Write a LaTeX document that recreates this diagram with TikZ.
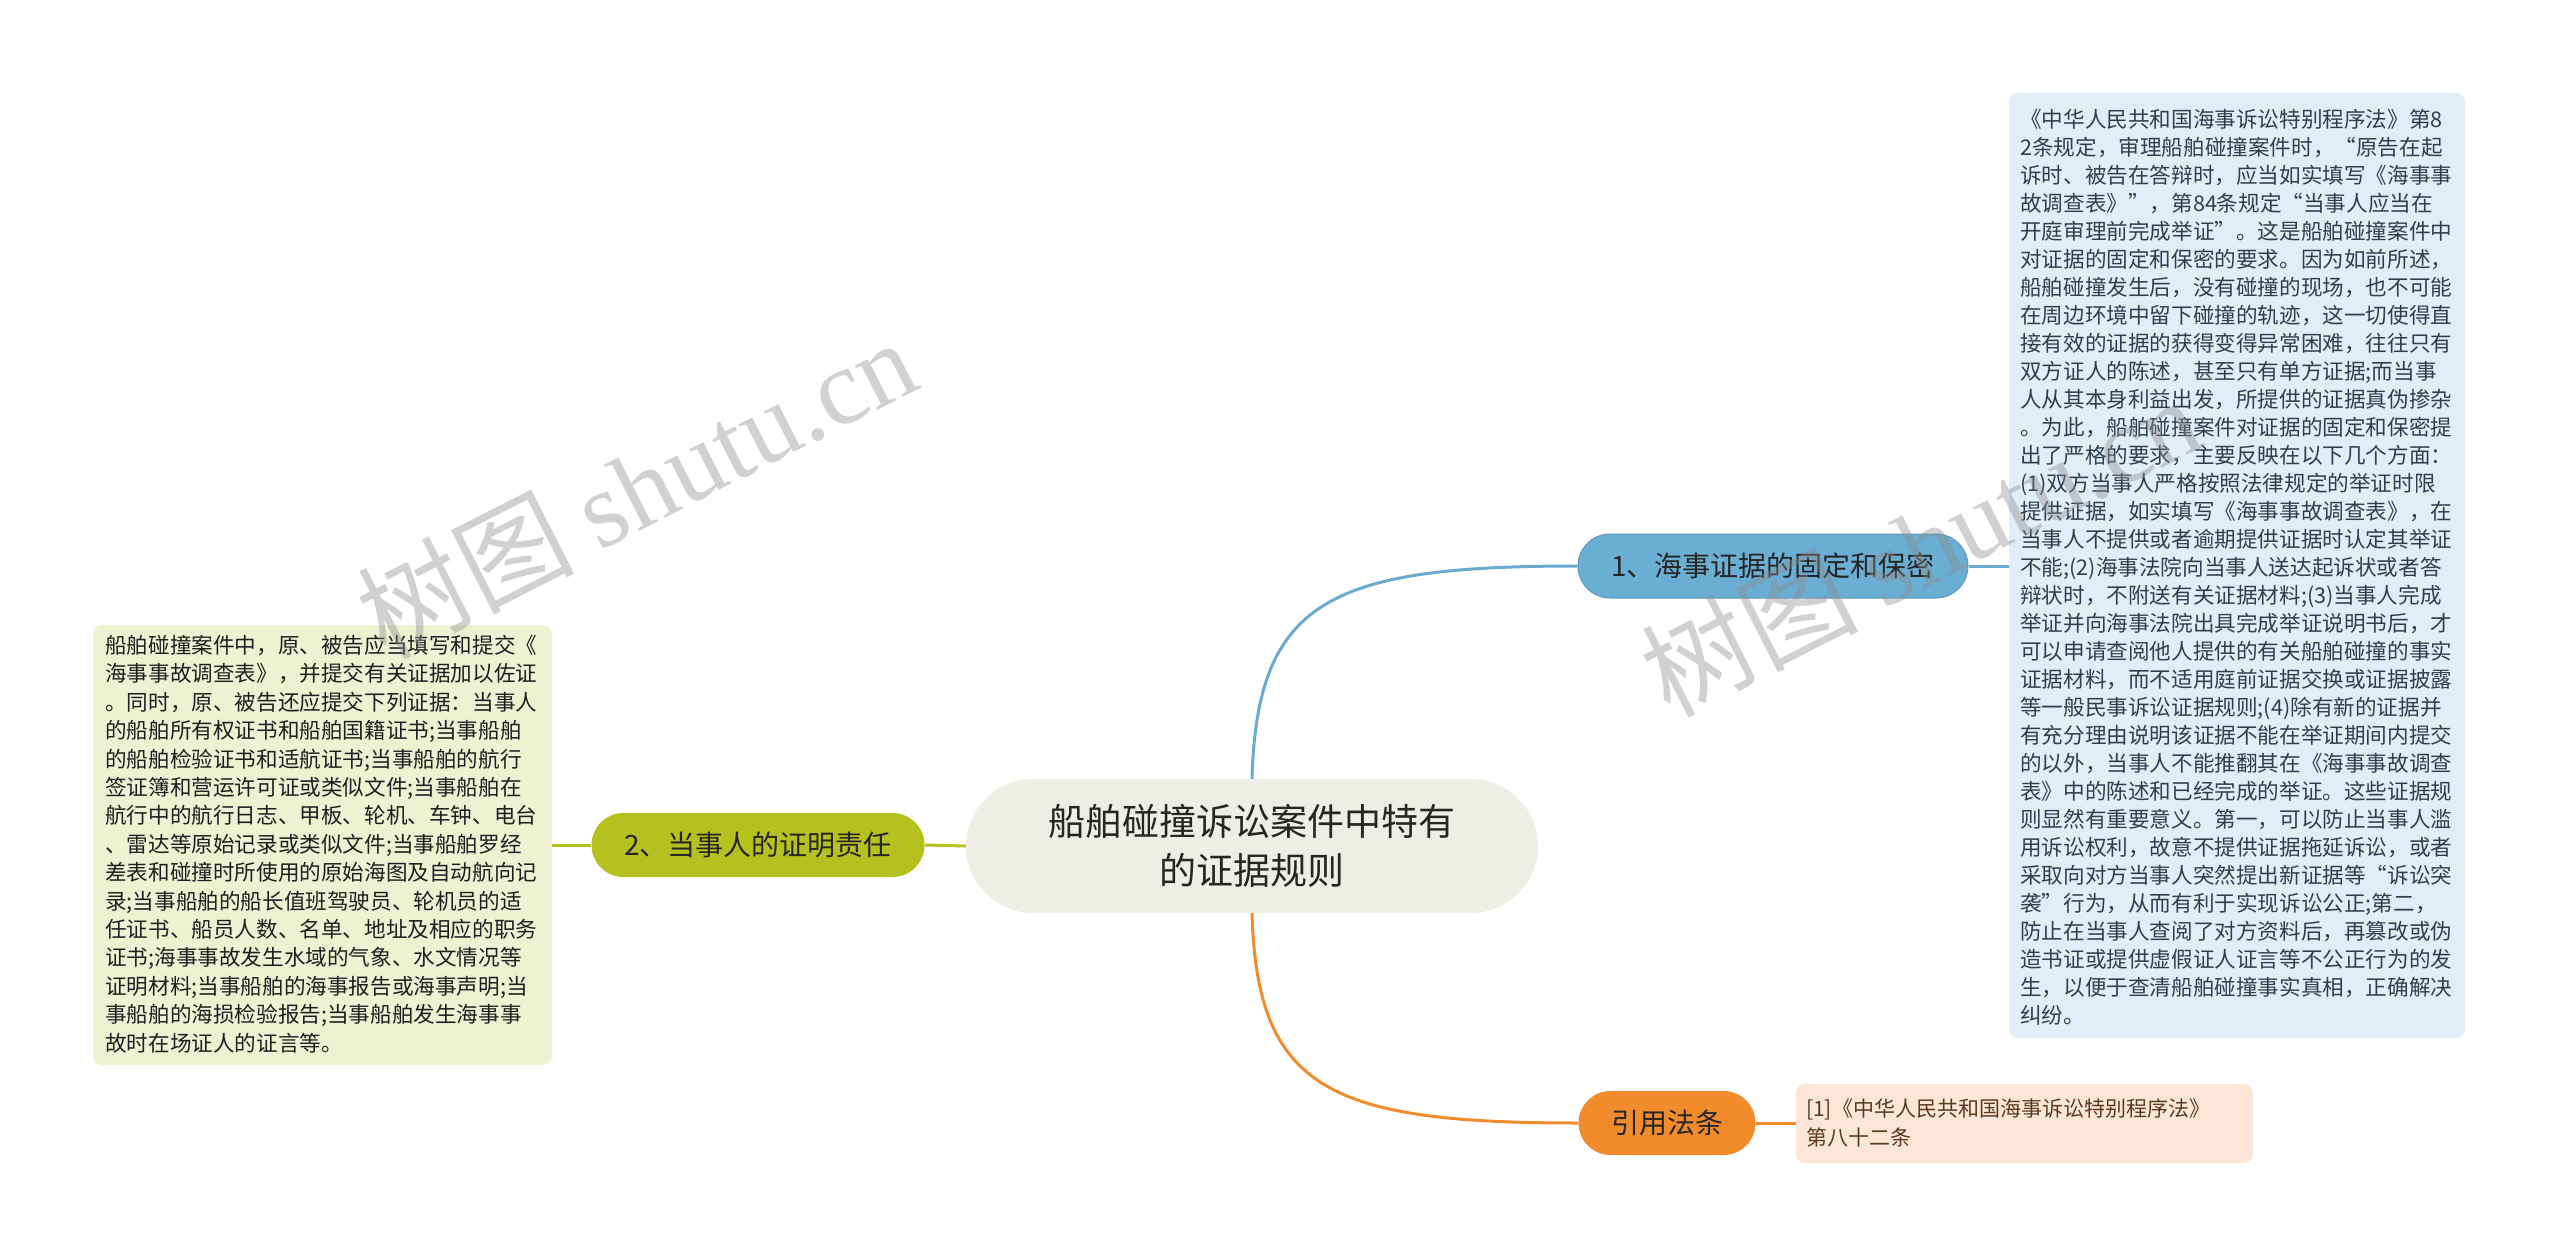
\documentclass[tikz,border=0pt]{standalone}
\usepackage{fontspec}
\setmainfont{Noto Sans CJK SC}
\newfontfamily\wmfont{Liberation Serif}
\definecolor{cfill}{HTML}{EEEEE6}
\definecolor{bluenode}{HTML}{6AAED4}
\definecolor{blueline}{HTML}{6AAAD0}
\definecolor{bluebox}{HTML}{E2EEF6}
\definecolor{bluetext}{HTML}{2E4050}
\definecolor{olivenode}{HTML}{B5C11E}
\definecolor{olivebox}{HTML}{EFF1D3}
\definecolor{orangenode}{HTML}{F28B2C}
\definecolor{orangebox}{HTML}{FDE6D7}
\definecolor{browntext}{HTML}{5A3A1E}
\definecolor{wmgray}{HTML}{8C8C8C}
\tikzset{
  topic/.style={inner sep=0pt, minimum height=64pt, rounded corners=32pt, text=black!85, font=\fontsize{28}{34}\selectfont},
  box/.style={inner sep=0pt, rounded corners=9pt},
  boxtext/.style={inner sep=0pt, anchor=north west, align=left},
  conn/.style={line width=3pt},
  wmark/.style={text=wmgray, text opacity=0.4, font=\fontsize{108}{118}\selectfont}
}
\begin{document}
\begin{tikzpicture}[x=1pt,y=-1pt]
\useasboundingbox (0,0) rectangle (2560,1257);

% central node
\node[inner sep=0pt, minimum width=572pt, minimum height=134pt, rounded corners=67pt, fill=cfill, align=center,
      text=black!85, font=\fontsize{37}{49}\selectfont] (root) at (1252,846) {船舶碰撞诉讼案件中特有\\的证据规则};

% branch nodes
\node[topic, fill=bluenode, draw=blueline!90!black, line width=1pt, minimum width=390pt] (n1) at (1773,566) {1、海事证据的固定和保密};
\node[topic, fill=olivenode, minimum width=333pt] (n2) at (758,845) {2、当事人的证明责任};
\node[topic, fill=orangenode, minimum width=177pt] (n3) at (1667,1123) {引用法条};

% detail boxes
\node[box, fill=bluebox, minimum width=456pt, minimum height=945pt] (b1) at (2237,565.5) {};
\node[boxtext, text=bluetext, font=\fontsize{21.6}{28}\selectfont] (t1) at (2020,109) {《中华人民共和国海事诉讼特别程序法》第8\\
2条规定，审理船舶碰撞案件时，“原告在起\\
诉时、被告在答辩时，应当如实填写《海事事\\
故调查表》”，第84条规定“当事人应当在\\
开庭审理前完成举证”。这是船舶碰撞案件中\\
对证据的固定和保密的要求。因为如前所述，\\
船舶碰撞发生后，没有碰撞的现场，也不可能\\
在周边环境中留下碰撞的轨迹，这一切使得直\\
接有效的证据的获得变得异常困难，往往只有\\
双方证人的陈述，甚至只有单方证据;而当事\\
人从其本身利益出发，所提供的证据真伪掺杂\\
。为此，船舶碰撞案件对证据的固定和保密提\\
出了严格的要求，主要反映在以下几个方面：\\
(1)双方当事人严格按照法律规定的举证时限\\
提供证据，如实填写《海事事故调查表》，在\\
当事人不提供或者逾期提供证据时认定其举证\\
不能;(2)海事法院向当事人送达起诉状或者答\\
辩状时，不附送有关证据材料;(3)当事人完成\\
举证并向海事法院出具完成举证说明书后，才\\
可以申请查阅他人提供的有关船舶碰撞的事实\\
证据材料，而不适用庭前证据交换或证据披露\\
等一般民事诉讼证据规则;(4)除有新的证据并\\
有充分理由说明该证据不能在举证期间内提交\\
的以外，当事人不能推翻其在《海事事故调查\\
表》中的陈述和已经完成的举证。这些证据规\\
则显然有重要意义。第一，可以防止当事人滥\\
用诉讼权利，故意不提供证据拖延诉讼，或者\\
采取向对方当事人突然提出新证据等“诉讼突\\
袭”行为，从而有利于实现诉讼公正;第二，\\
防止在当事人查阅了对方资料后，再篡改或伪\\
造书证或提供虚假证人证言等不公正行为的发\\
生，以便于查清船舶碰撞事实真相，正确解决\\
纠纷。};

\node[box, fill=olivebox, minimum width=459pt, minimum height=440pt] (b2) at (322.5,845) {};
\node[boxtext, text=black!88, font=\fontsize{21.6}{28.4}\selectfont] (t2) at (105,635) {船舶碰撞案件中，原、被告应当填写和提交《\\
海事事故调查表》，并提交有关证据加以佐证\\
。同时，原、被告还应提交下列证据：当事人\\
的船舶所有权证书和船舶国籍证书;当事船舶\\
的船舶检验证书和适航证书;当事船舶的航行\\
签证簿和营运许可证或类似文件;当事船舶在\\
航行中的航行日志、甲板、轮机、车钟、电台\\
、雷达等原始记录或类似文件;当事船舶罗经\\
差表和碰撞时所使用的原始海图及自动航向记\\
录;当事船舶的船长值班驾驶员、轮机员的适\\
任证书、船员人数、名单、地址及相应的职务\\
证书;海事事故发生水域的气象、水文情况等\\
证明材料;当事船舶的海事报告或海事声明;当\\
事船舶的海损检验报告;当事船舶发生海事事\\
故时在场证人的证言等。};

\node[box, fill=orangebox, minimum width=457pt, minimum height=79pt] (b3) at (2024.5,1123.5) {};
\node[boxtext, text=browntext, font=\fontsize{21}{29}\selectfont] (t3) at (1806,1099) {[1]《中华人民共和国海事诉讼特别程序法》\\第八十二条};

% connectors
\draw[conn, blueline] (root.north) .. controls (1257,600) and (1330,566) .. (n1.west);
\draw[conn, orangenode] (root.south) .. controls (1257,1090) and (1330,1123) .. (n3.west);
\draw[conn, olivenode] (root.west) -- (n2.east);
\draw[conn, blueline] (n1.east) -- (n1.east -| b1.west);
\draw[conn, olivenode] (n2.west) -- (n2.west -| b2.east);
\draw[conn, orangenode] (n3.east) -- (n3.east -| b3.west);

% watermarks
\node[wmark, rotate=27] (wm1) at (636,487) {树图 {\wmfont shutu.cn}};
\node[wmark, rotate=27] (wm2) at (1920,545) {树图 {\wmfont shutu.cn}};
\end{tikzpicture}
\end{document}
